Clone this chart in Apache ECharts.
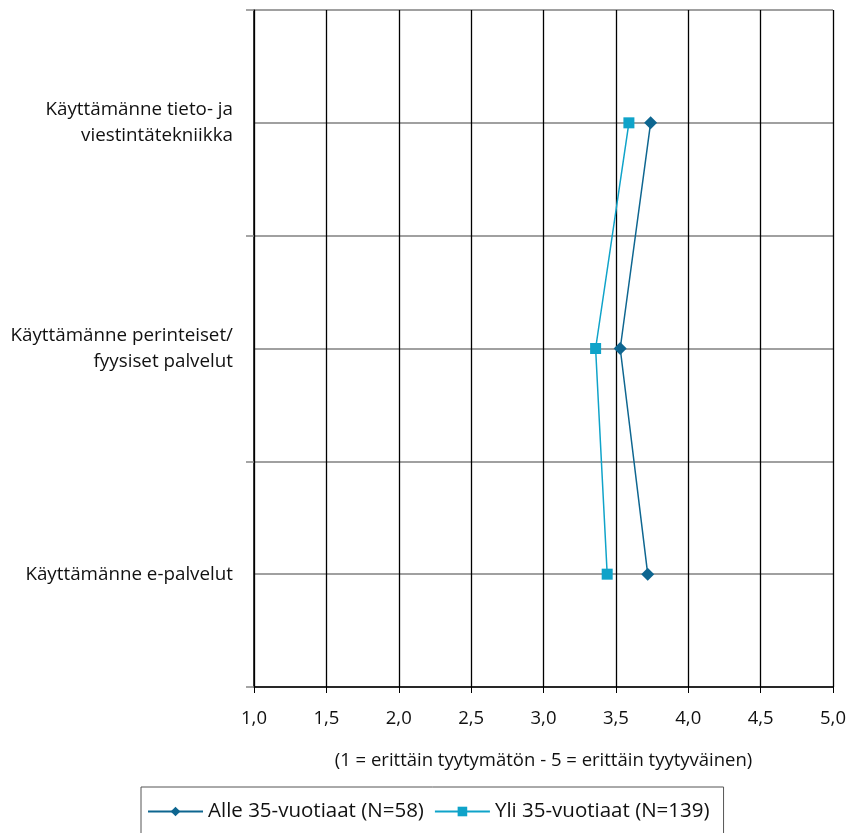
<!DOCTYPE html>
<html><head><meta charset="utf-8">
<script src="https://cdn.jsdelivr.net/npm/echarts@6/dist/echarts.min.js"></script>
<style>html,body{margin:0;padding:0;background:#fff}#c{width:852px;height:833px}</style>
</head><body><div id="c"></div>
<script>
const categories = ["Käyttämänne tieto- ja\nviestintätekniikka", "Käyttämänne perinteiset/\nfyysiset palvelut", "Käyttämänne e-palvelut"];
const alle35 = [3.74, 3.53, 3.72];
const yli35 = [3.59, 3.36, 3.44];
const seriesNames = ["Alle 35-vuotiaat (N=58)", "Yli 35-vuotiaat (N=139)"];
const xAxisName = "(1 = erittäin tyytymätön - 5 = erittäin tyytyväinen)";
const FONT = "'Open Sans', sans-serif";
const chart = echarts.init(document.getElementById('c'), null, {renderer: 'canvas'});
chart.setOption({
  animation: false,
  textStyle: {fontFamily: FONT, color: '#111'},
  grid: {left: 254, right: 19, top: 10, bottom: 146, containLabel: false},
  legend: {
    top: 787, left: 141,
    padding: [14, 14, 20, 6],
    borderColor: '#555', borderWidth: 1,
    itemWidth: 55, itemHeight: 12, itemGap: 10,
    textStyle: {fontSize: 20.5, fontFamily: FONT, color: '#111'},
    data: seriesNames
  },
  xAxis: {
    type: 'value', min: 1, max: 5, interval: 0.5,
    axisLine: {show: true, lineStyle: {color: '#000', width: 1.5}},
    axisTick: {show: true, length: 6, lineStyle: {color: '#000'}},
    axisLabel: {fontSize: 18.5, color: '#111', margin: 22, fontFamily: FONT,
      formatter: v => v.toFixed(1).replace('.', ',')},
    splitLine: {show: true, lineStyle: {color: '#000', width: 1.3}},
    name: xAxisName, nameLocation: 'middle', nameGap: 64,
    nameTextStyle: {fontSize: 18.5, color: '#111', fontFamily: FONT}
  },
  yAxis: [{
    type: 'category', data: categories, inverse: true, boundaryGap: true,
    axisLine: {show: true, lineStyle: {color: '#000', width: 1.5}},
    axisTick: {show: true, length: 8, lineStyle: {color: '#888', width: 1.5}},
    axisLabel: {fontSize: 18.8, color: '#111', margin: 21, align: 'right', lineHeight: 26, fontFamily: FONT},
    splitLine: {show: false}
  }, {
    type: 'value', min: 0, max: 6, interval: 1, position: 'left',
    axisLine: {show: false}, axisTick: {show: false}, axisLabel: {show: false},
    splitLine: {show: true, lineStyle: {color: '#808080', width: 1.5}}
  }],
  series: [{
    name: seriesNames[0], type: 'line', data: alle35, yAxisIndex: 0,
    symbol: 'diamond', symbolSize: 13,
    itemStyle: {color: '#0e6690'}, lineStyle: {color: '#0e6690', width: 1.5}
  }, {
    name: seriesNames[1], type: 'line', data: yli35, yAxisIndex: 0,
    symbol: 'rect', symbolSize: 11,
    itemStyle: {color: '#0fa3c9'}, lineStyle: {color: '#0fa3c9', width: 1.5}
  }]
});
</script></body></html>
